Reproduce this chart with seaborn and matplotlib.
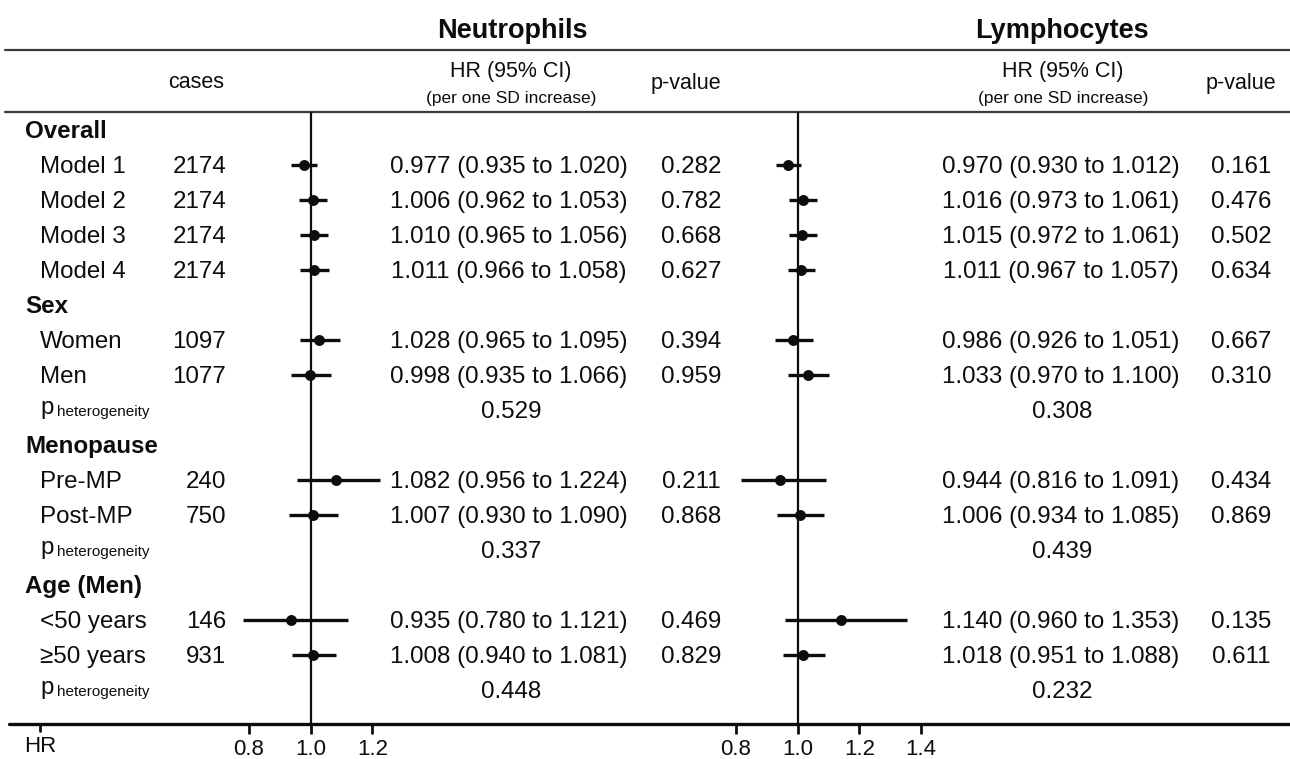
import matplotlib
matplotlib.use("Agg")
import matplotlib.pyplot as plt
import seaborn as sns
import pandas as pd

# ---- data ----
groups = ["Overall", "Sex", "Menopause", "Age (Men)"]
group_items = [["Model 1", "Model 2", "Model 3", "Model 4"],
               ["Women", "Men"],
               ["Pre-MP", "Post-MP"],
               ["<50 years", "\u226550 years"]]
group_has_phet = [False, True, True, True]
cases = [2174, 2174, 2174, 2174, 1097, 1077, 240, 750, 146, 931]

neu_hr = [0.977, 1.006, 1.010, 1.011, 1.028, 0.998, 1.082, 1.007, 0.935, 1.008]
neu_lo = [0.935, 0.962, 0.965, 0.966, 0.965, 0.935, 0.956, 0.930, 0.780, 0.940]
neu_hi = [1.020, 1.053, 1.056, 1.058, 1.095, 1.066, 1.224, 1.090, 1.121, 1.081]
neu_p = ["0.282", "0.782", "0.668", "0.627", "0.394", "0.959", "0.211", "0.868", "0.469", "0.829"]
neu_phet = ["0.529", "0.337", "0.448"]

lym_hr = [0.970, 1.016, 1.015, 1.011, 0.986, 1.033, 0.944, 1.006, 1.140, 1.018]
lym_lo = [0.930, 0.973, 0.972, 0.967, 0.926, 0.970, 0.816, 0.934, 0.960, 0.951]
lym_hi = [1.012, 1.061, 1.061, 1.057, 1.051, 1.100, 1.091, 1.085, 1.353, 1.088]
lym_p = ["0.161", "0.476", "0.502", "0.634", "0.667", "0.310", "0.434", "0.869", "0.135", "0.611"]
lym_phet = ["0.308", "0.439", "0.232"]

neu_ticks = [0.8, 1.0, 1.2]
lym_ticks = [0.8, 1.0, 1.2, 1.4]

# ---- row layout ----
heads, items, phets = [], [], []
r = 0
for g, its, hp in zip(groups, group_items, group_has_phet):
    heads.append((r, g))
    r += 1
    for it in its:
        items.append((r, it))
        r += 1
    if hp:
        phets.append(r)
        r += 1

df_neu = pd.DataFrame({"row": [i[0] for i in items], "hr": neu_hr, "lo": neu_lo, "hi": neu_hi})
df_lym = pd.DataFrame({"row": [i[0] for i in items], "hr": lym_hr, "lo": lym_lo, "hi": lym_hi})

W, H = 1290, 759
ROW0, ROWH = 129.8, 35.0
def ypx(row):
    return ROW0 + ROWH * row

sns.set_theme(style="white")
plt.rcParams["font.family"] = ["Liberation Sans", "DejaVu Sans"]
INK = "#0d0d0d"
FS = 17.4
BL = 8.5  # baseline offset below row centre (px)

fig = plt.figure(figsize=(12.9, 7.59), dpi=100)
ax = fig.add_axes([0, 0, 1, 1])
ax.set_xlim(0, W)
ax.set_ylim(H, 0)
ax.axis("off")

def txt(x, y, s, ha="center", **kw):
    kw.setdefault("fontsize", FS)
    ax.text(x, y + BL, s, ha=ha, va="baseline", color=INK, **kw)

# titles and header
ax.text(512, 31, "Neutrophils", ha="center", va="center", fontsize=19.5, fontweight="bold", color=INK)
ax.text(1062, 31, "Lymphocytes", ha="center", va="center", fontsize=19.5, fontweight="bold", color=INK)
ax.plot([5, W], [50, 50], color="#3a3a3a", lw=1.6)
ax.plot([5, W], [112, 112], color="#3a3a3a", lw=1.6)
ax.plot([9, W], [724, 724], color=INK, lw=2.4)

ax.text(196, 83, "cases", ha="center", va="center", fontsize=15.5, color=INK)
for cx, px in [(511, 686), (1063, 1241)]:
    ax.text(cx, 72, "HR (95% CI)", ha="center", va="center", fontsize=15.5, color=INK)
    ax.text(cx, 98, "(per one SD increase)", ha="center", va="center", fontsize=12.5, color=INK)
    ax.text(px, 83, "p-value", ha="center", va="center", fontsize=15.5, color=INK)

# row labels
for row, g in heads:
    txt(25, ypx(row), g, ha="left", fontweight="bold")
for k, (row, it) in enumerate(items):
    y = ypx(row)
    txt(40, y, it, ha="left")
    txt(226, y, str(cases[k]), ha="right")
    txt(509, y, f"{neu_hr[k]:.3f} ({neu_lo[k]:.3f} to {neu_hi[k]:.3f})")
    txt(691, y, neu_p[k])
    txt(1061, y, f"{lym_hr[k]:.3f} ({lym_lo[k]:.3f} to {lym_hi[k]:.3f})")
    txt(1241, y, lym_p[k])
for k, row in enumerate(phets):
    y = ypx(row)
    ax.text(40, y + 4.5, "p", ha="left", va="baseline", fontsize=FS, color=INK)
    ax.text(57, y + 6.5, "heterogeneity", ha="left", va="baseline", fontsize=11, color=INK)
    txt(511, y, neu_phet[k])
    txt(1062, y, lym_phet[k])

# HR label on the axis
ax.plot([40, 40], [724, 731], color=INK, lw=2)
ax.text(40, 747, "HR", ha="center", va="center", fontsize=16, color=INK)

# ---- forest panels ----
SCALE = 308.5  # pixels per HR unit
TOP, BOT = 112, 724

def forest(df, one_px, xlim, ticks):
    left = one_px + (xlim[0] - 1.0) * SCALE
    width = (xlim[1] - xlim[0]) * SCALE
    fa = fig.add_axes([left / W, (H - BOT) / H, width / W, (BOT - TOP) / H])
    fa.patch.set_alpha(0)
    fa.set_xlim(*xlim)
    fa.set_ylim((BOT - ROW0) / ROWH, (TOP - ROW0) / ROWH)
    fa.axvline(1.0, color=INK, lw=1.6, zorder=1)
    fa.hlines(df["row"], df["lo"], df["hi"], color=INK, lw=2.4, zorder=2)
    sns.scatterplot(data=df, x="hr", y="row", ax=fa, color=INK, s=62, linewidth=0, zorder=3)
    fa.set_xticks(ticks)
    fa.set_xticklabels([f"{t:.1f}" for t in ticks])
    fa.set_yticks([])
    fa.set_xlabel("")
    fa.set_ylabel("")
    fa.tick_params(axis="x", direction="out", length=7, width=2, color=INK,
                   labelsize=16, labelcolor=INK, pad=4, bottom=True)
    for s in fa.spines.values():
        s.set_visible(False)
    return fa

forest(df_neu, 310.7, (0.6, 1.45), neu_ticks)
forest(df_lym, 797.7, (0.6, 1.45), lym_ticks)

fig.savefig("out.png", dpi=100)
